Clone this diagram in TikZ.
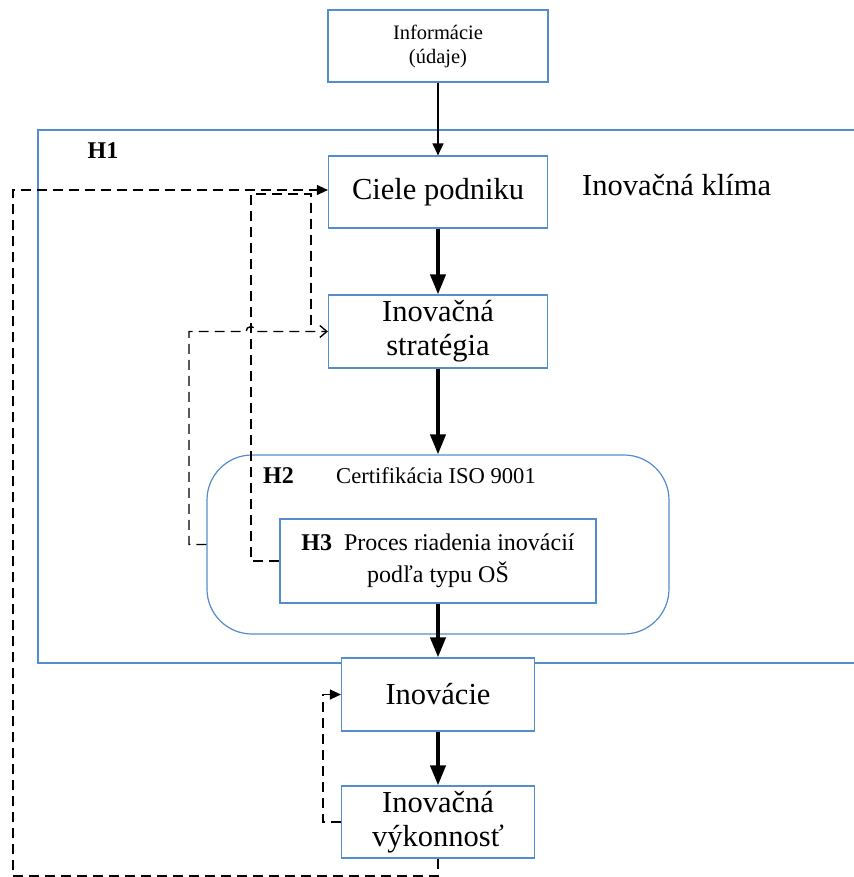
\documentclass[tikz,border=0pt]{standalone}
\usepackage{fontspec}
\setmainfont{Liberation Serif}
\usepackage{tikz}
\usetikzlibrary{arrows.meta,positioning}
\definecolor{boxblue}{RGB}{84,141,205}

\begin{document}
\begin{tikzpicture}[x=1pt, y=-1pt,
	box/.style={draw=boxblue, line width=1.2pt, fill=white, inner sep=0pt, align=center},
	big/.style={font=\fontsize{30.5}{34}\selectfont},
	lbl/.style={inner sep=0pt, font=\fontsize{24}{28}\selectfont\bfseries},
	flow/.style={line width=4pt, -{Triangle[length=20pt,width=15pt]}},
	fb/.style={line width=1.4pt, dash pattern=on 10pt off 6pt}]
			
			\useasboundingbox (0,0) rectangle (853,877);
			
			% H1 frame
			\draw[boxblue, line width=1.2pt] (860,130) -- (38,130) -- (38,663) -- (860,663);
			\node[lbl] (h1) at (103,151) {H1};
			\node[anchor=base west, inner sep=0pt, big] (klima) at (582,196) {Inovačná klíma};
			
			% Boxes
			\node[box, minimum width=220pt, minimum height=72pt, font=\fontsize{20.5}{24}\selectfont] (info) at (438,46) {Informácie\\(údaje)};
			\node[box, big, minimum width=219pt, minimum height=72pt] (cie) at (438,192) {Ciele podniku};
			\node[box, big, minimum width=219pt, minimum height=73pt] (stra) at (438,331.5) {Inovačná\\stratégia};
			
			% H2, H3
			\node[box, rounded corners=45pt, minimum width=462pt, minimum height=179pt] (h2) at (438,544.5) {};
			\node[lbl, anchor=base west] (h2lbl) at (263,483) {H2};
			\node[anchor=base west, inner sep=0pt, font=\fontsize{22.6}{26}\selectfont] (cert) at (336,483) {Certifikácia ISO 9001};
			\node[box, minimum width=316pt, minimum height=84pt, font=\fontsize{24}{32}\selectfont] (h3) at (438,561) {\textbf{H3}\hspace{12pt}Proces riadenia inovácií\\podľa typu OŠ};
			
			% Results
			\node[box, big, minimum width=193pt, minimum height=73pt] (inov) at (438,694.5) {Inovácie};
			\node[box, big, minimum width=193pt, minimum height=72pt] (vyk) at (438,822) {Inovačná\\výkonnosť};
			
			% Main flow
			\draw[line width=1.5pt, -{Triangle[length=12pt,width=11pt]}] (info.south) -- (info.south |- cie.north);
			\draw[flow] (cie) -- (stra);
			\draw[flow] (stra) -- (h2);
			\draw[flow] (h3) -- (inov);
			\draw[flow] (inov) -- (vyk);
			
			% Feedback
			\draw[fb, -{Triangle[length=11pt,width=10pt]}] (vyk.south) -- (438,876) -- (13,876) -- (13,190) -- ([yshift=2pt]cie.west);
			\draw[fb] (h3.west) -- (251,561) -- (251,194) -- (311,194) -- (311,331.5);
			\draw[fb, -{Straight Barb[length=7pt,width=12pt]}] (h2.west) -- (189,544.5) -- (189,331.5) -- (246,331.5) arc[start angle=180, end angle=0, radius=5pt] -- (stra.west);
			\draw[fb, -{Triangle[length=11pt,width=10pt]}] (vyk.west) -- (323,822) -- (323,694.5) -- (inov.west);
			
		\end{tikzpicture}
\end{document}
